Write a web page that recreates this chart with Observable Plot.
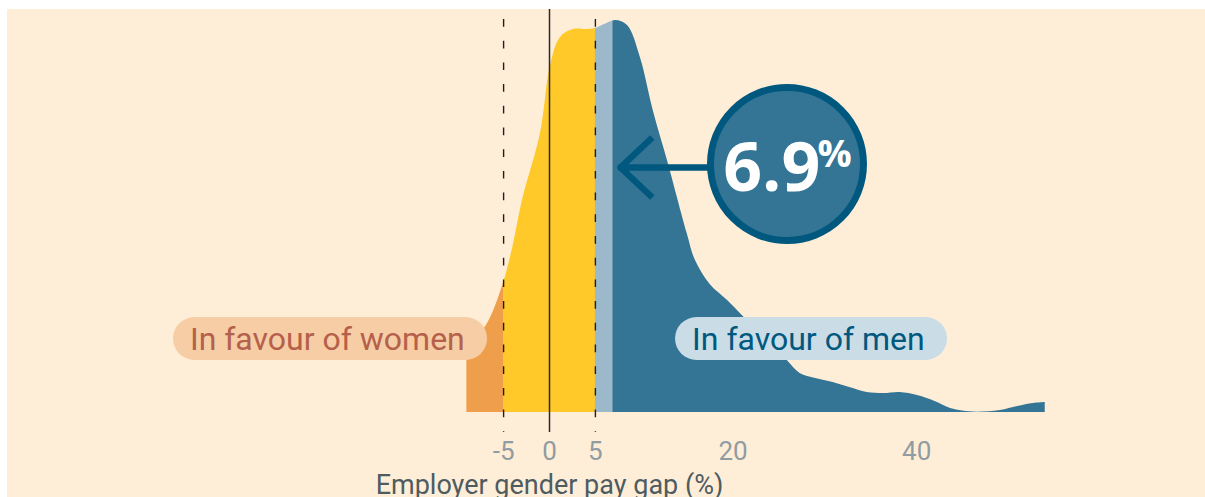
<!DOCTYPE html>
<html>
<head>
<meta charset="utf-8">
<script src="https://cdn.jsdelivr.net/npm/d3@7"></script>
<script src="https://cdn.jsdelivr.net/npm/@observablehq/plot@0.6"></script>
<style>
  html, body { margin: 0; padding: 0; background: #ffffff; }
  #chart { position: absolute; left: 7px; top: 9px; width: 1198px; height: 488px; background: #ffeed7; overflow: hidden; }
</style>
</head>
<body>
<div id="chart"></div>
<script>
// ---- data ----
const gapX = [-9.0, -6.75, -5.1, -4.0, -2.95, -0.98, 0.11, 1.2, 2.6, 4.1, 5.0, 6.0, 7.2, 8.5, 9.9, 11.3, 12.85, 15.0, 15.9, 17.5, 19.4, 21.0, 23.5, 25.9, 27.3, 29.0, 30.9, 32.7, 34.6, 36.4, 38.2, 40.1, 42.0, 43.7, 45.0, 46.6, 49.1, 51.0, 52.7, 54.0];
const share = [62, 89, 127, 165, 212, 279, 347, 375, 383, 383, 384, 388, 392, 387, 355, 302, 252, 179, 152, 128, 112, 97, 73, 52, 39, 34, 30, 25, 20, 19, 20, 17, 11, 4, 1.5, 0.3, 2, 6, 9, 10];
const bandEdges = [-5, 5, 6.9];
const bandColors = ["#ef9e4b", "#ffc929", "#9bb9ca", "#347596"];
const tickValues = [-5, 0, 5, 20, 40];
const tickLabels = ["-5", "0", "5", "20", "40"];
const medianGap = 6.9;
const medianLabel = "6.9";
const axisTitle = "Employer gender pay gap (%)";
const sideLabels = ["In favour of women", "In favour of men"];

const density = gapX.map((x, i) => ({x, y: share[i]}));
const ticks = tickValues.map((v, i) => ({x: v, label: tickLabels[i]}));

const W = 1198, H = 488;
const font = "Roboto, 'Noto Sans', sans-serif";

const pills = [
  {x1: -40.96, x2: -6.75, y1: 52, y2: 95, fill: "#f6cda5", tx: -24.2, text: sideLabels[0], color: "#b5604a"},
  {x1: 13.73, x2: 43.36, y1: 52, y2: 95, fill: "#cadde6", tx: 28.2, text: sideLabels[1], color: "#00587f"}
];

const areaMarks = bandColors.map((c) =>
  Plot.areaY(density, {x: "x", y: "y", fill: c, curve: "catmull-rom"})
);

const plot = Plot.plot({
  width: W,
  height: H,
  margin: 0,
  x: {domain: [-10, 60], range: [542 - 10 * 9.18, 542 + 60 * 9.18], axis: null},
  y: {domain: [0, 400], range: [403, 3], axis: null},
  style: {background: "#ffeed7", fontFamily: font, overflow: "visible"},
  marks: [
    ...areaMarks,
    Plot.ruleX([0], {y1: 403, y2: -20, stroke: "#2b2b2b", strokeWidth: 1.5}),
    Plot.ruleX([bandEdges[0], bandEdges[1]], {y1: 393, y2: -20, stroke: "#1e1e1e", strokeWidth: 1.4, strokeDasharray: "7.7,14"}),
    Plot.rect(pills, {x1: "x1", x2: "x2", y1: "y1", y2: "y2", fill: "fill", rx: 21.5}),
    Plot.text(pills, {x: "tx", y: 73, text: "text", fill: "color", fontSize: 32}),
    Plot.text(ticks, {x: "x", y: -39, text: "label", fill: "#8f9ca2", fontSize: 26}),
    Plot.text([axisTitle], {x: 0, y: -72.7, text: d => d, fill: "#4e5c62", fontSize: 27}),
    // arrow pointing at the median
    Plot.line([{x: 11.2, y: 275}, {x: 7.73, y: 245}, {x: 11.2, y: 215}], {x: "x", y: "y", stroke: "#00587f", strokeWidth: 6.5, strokeLinejoin: "miter", strokeLinecap: "butt"}),
    Plot.line([{x: 7.73, y: 245}, {x: 17.8, y: 245}], {x: "x", y: "y", stroke: "#00587f", strokeWidth: 6.5}),
    Plot.dot([medianGap], {x: () => 25.87, y: () => 248.5, r: 76.5, fill: "#347596", stroke: "#00587f", strokeWidth: 7}),
    Plot.text([medianLabel], {x: () => 29.5, y: () => 222, text: d => d, textAnchor: "end", lineAnchor: "bottom", fill: "#ffffff", fontSize: 68, fontWeight: "bold", fontFamily: "'Open Sans', sans-serif", letterSpacing: "-6px"}),
    Plot.text(["%"], {x: () => 29.2, y: () => 246, text: d => d, textAnchor: "start", lineAnchor: "bottom", fill: "#ffffff", fontSize: 38, fontWeight: "bold", fontFamily: "'Open Sans', sans-serif"})
  ]
});

// clip each copy of the area to its band, using the plot's own x scale
const xs = plot.scale("x");
const svgSel = d3.select(plot);
const defs = svgSel.insert("defs", ":first-child");
const edges = [-1e6, ...bandEdges, 1e6];
const areaGroups = plot.querySelectorAll('g[aria-label="area"]');
bandColors.forEach((c, i) => {
  const a = Math.max(-10, xs.apply(edges[i]));
  const b = Math.min(W + 10, xs.apply(edges[i + 1]));
  const id = "gpg-band-" + i;
  defs.append("clipPath").attr("id", id)
    .append("rect").attr("x", a).attr("y", -10).attr("width", b - a).attr("height", xs && H + 20);
  if (areaGroups[i]) areaGroups[i].setAttribute("clip-path", `url(#${id})`);
});

document.getElementById("chart").appendChild(plot);
</script>
</body>
</html>
